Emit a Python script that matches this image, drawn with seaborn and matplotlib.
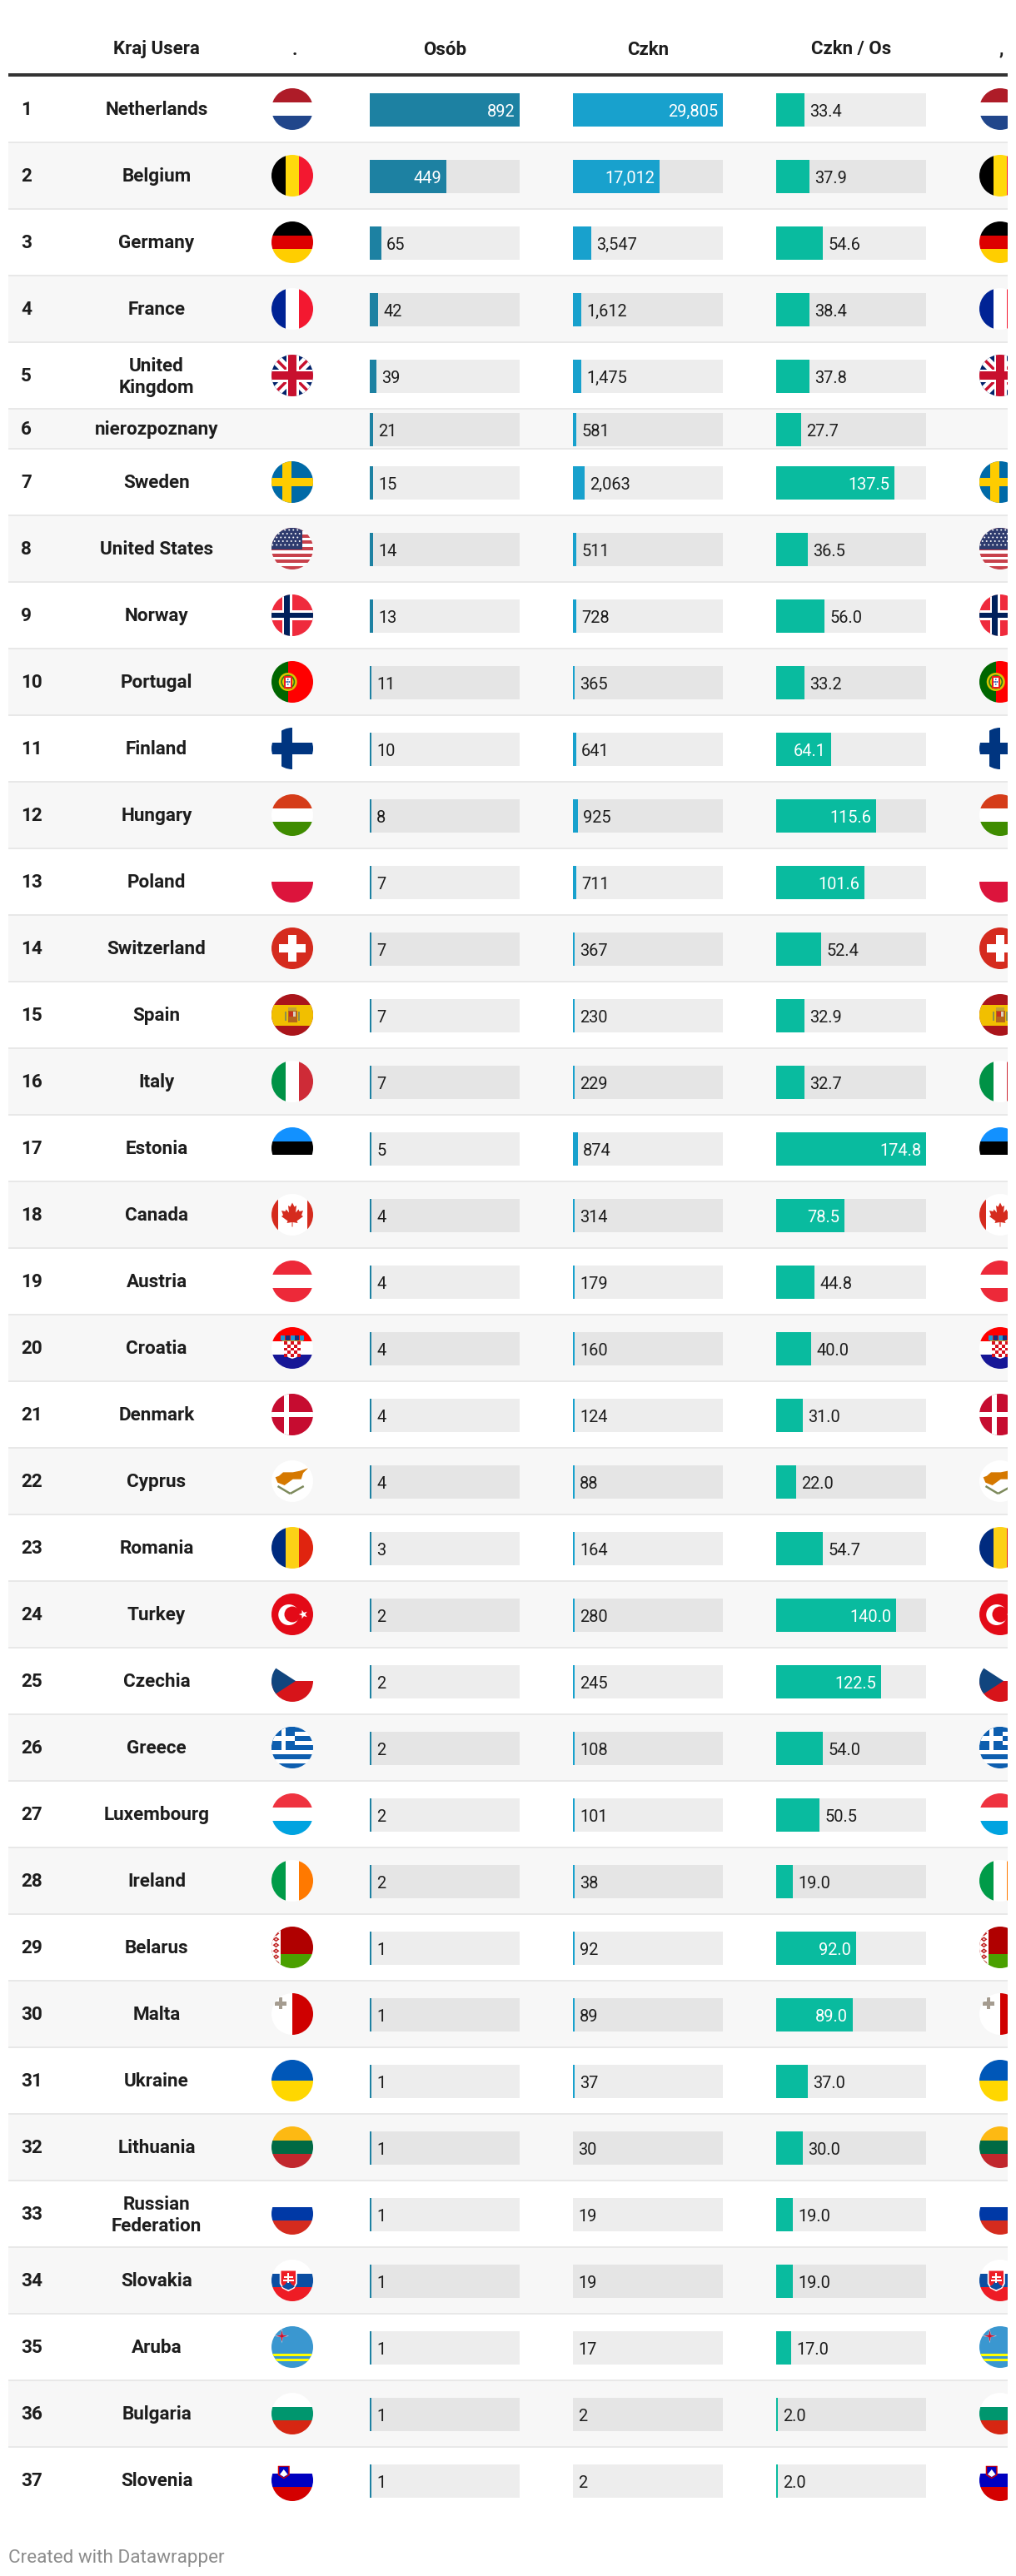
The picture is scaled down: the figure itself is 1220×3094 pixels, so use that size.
import numpy as np
import pandas as pd
import matplotlib
matplotlib.use("Agg")
import matplotlib.pyplot as plt
from matplotlib.patches import Rectangle, Circle, Polygon
import seaborn as sns

countries = ["Netherlands", "Belgium", "Germany", "France", "United\nKingdom", "nierozpoznany", "Sweden",
             "United States", "Norway", "Portugal", "Finland", "Hungary", "Poland", "Switzerland", "Spain",
             "Italy", "Estonia", "Canada", "Austria", "Croatia", "Denmark", "Cyprus", "Romania", "Turkey",
             "Czechia", "Greece", "Luxembourg", "Ireland", "Belarus", "Malta", "Ukraine", "Lithuania",
             "Russian\nFederation", "Slovakia", "Aruba", "Bulgaria", "Slovenia"]
osob = [892, 449, 65, 42, 39, 21, 15, 14, 13, 11, 10, 8, 7, 7, 7, 7, 5, 4, 4, 4, 4, 4, 3, 2, 2, 2, 2, 2,
        1, 1, 1, 1, 1, 1, 1, 1, 1]
czkn = [29805, 17012, 3547, 1612, 1475, 581, 2063, 511, 728, 365, 641, 925, 711, 367, 230, 229, 874, 314,
        179, 160, 124, 88, 164, 280, 245, 108, 101, 38, 92, 89, 37, 30, 19, 19, 17, 2, 2]
czkn_os = [33.4, 37.9, 54.6, 38.4, 37.8, 27.7, 137.5, 36.5, 56.0, 33.2, 64.1, 115.6, 101.6, 52.4, 32.9,
           32.7, 174.8, 78.5, 44.8, 40.0, 31.0, 22.0, 54.7, 140.0, 122.5, 54.0, 50.5, 19.0, 92.0, 89.0,
           37.0, 30.0, 19.0, 19.0, 17.0, 2.0, 2.0]
headers = ["Kraj Usera", ".", "Osób", "Czkn", "Czkn / Os", ","]
footer = "Created with Datawrapper"

# flags that are just three (or two) stripes
h_bands = {
    "Netherlands": ["#ae1c28", "#ffffff", "#21468b"],
    "Germany": ["#000000", "#dd0000", "#ffce00"],
    "Hungary": ["#d53c19", "#ffffff", "#3f8c00"],
    "Poland": ["#ffffff", "#dc143c"],
    "Estonia": ["#1291ff", "#000000", "#ffffff"],
    "Austria": ["#ed2939", "#ffffff", "#ed2939"],
    "Luxembourg": ["#ef3340", "#ffffff", "#00a3e0"],
    "Ukraine": ["#0057b8", "#ffd700"],
    "Lithuania": ["#fdb913", "#006a44", "#c1272d"],
    "Russian\nFederation": ["#ffffff", "#0039a6", "#d52b1e"],
    "Bulgaria": ["#ffffff", "#00966e", "#d62612"],
    "Croatia": ["#ff0000", "#ffffff", "#171796"],
    "Slovakia": ["#ffffff", "#0b4ea2", "#ee1c25"],
    "Slovenia": ["#ffffff", "#0000c0", "#d40000"],
}
v_bands = {
    "Belgium": ["#000000", "#ffd90c", "#f31830"],
    "France": ["#002395", "#ffffff", "#f31830"],
    "Italy": ["#009246", "#ffffff", "#ce2b37"],
    "Romania": ["#002b7f", "#fcd116", "#e0240f"],
    "Ireland": ["#009b48", "#ffffff", "#ff7900"],
}

W, H = 1220, 3094
R = 25


def px(size):
    return size * 0.72


sns.set_theme(style="white")
plt.rcParams["font.family"] = ["Roboto", "DejaVu Sans"]

fig = plt.figure(figsize=(W / 100, H / 100), dpi=100, facecolor="white")
base = fig.add_axes([0, 0, 1, 1])
base.set_xlim(0, W)
base.set_ylim(H, 0)
base.axis("off")

# row layout
row_h = [48 if c == "nierozpoznany" else 80 for c in countries]
row_top = 92 + np.concatenate([[0], np.cumsum(row_h)[:-1]])
row_mid = row_top + (np.array(row_h) - 2) / 2
bar_y = row_mid + 1
shades = ["even" if i % 2 else "odd" for i in range(len(countries))]


def draw_flag(name, cx, cy):
    clip = Circle((cx, cy), R, transform=base.transData)

    def add(p):
        base.add_patch(p)
        p.set_clip_path(clip)

    def rect(x0, y0, x1, y1, c):
        add(Rectangle((cx + x0 * R, cy + y0 * R), (x1 - x0) * R, (y1 - y0) * R, fc=c, lw=0, zorder=3))

    def poly(pts, c, ec="none", lw=0):
        pts = [(cx + a * R, cy + b * R) for a, b in pts]
        add(Polygon(pts, closed=True, fc=c, ec=ec, lw=lw, zorder=3))

    def circ(x, y, r, c):
        add(Circle((cx + x * R, cy + y * R), r * R, fc=c, lw=0, zorder=3))

    def bar(x0, y0, x1, y1, w, c):
        # slanted stripe, w in flag units
        d = np.array([x1 - x0, y1 - y0], dtype=float)
        n = np.array([-d[1], d[0]]) / np.hypot(*d) * w / 2
        poly([(x0 + n[0], y0 + n[1]), (x1 + n[0], y1 + n[1]), (x1 - n[0], y1 - n[1]), (x0 - n[0], y0 - n[1])], c)

    def star(x, y, r, c, points=5, inner=0.4, rot=-np.pi / 2):
        a = rot + np.arange(points * 2) * np.pi / points
        rr = np.where(np.arange(points * 2) % 2 == 0, r, r * inner)
        poly(list(zip(x + rr * np.cos(a), y + rr * np.sin(a))), c)

    if name in h_bands:
        cols = h_bands[name]
        edges = np.linspace(-1, 1, len(cols) + 1)
        for i, c in enumerate(cols):
            rect(-1, edges[i], 1, edges[i + 1], c)
    if name in v_bands:
        cols = v_bands[name]
        edges = np.linspace(-1, 1, len(cols) + 1)
        for i, c in enumerate(cols):
            rect(edges[i], -1, edges[i + 1], 1, c)

    if name == "United\nKingdom":
        rect(-1, -1, 1, 1, "#012169")
        bar(-1, -1, 1, 1, 0.5, "#ffffff")
        bar(-1, 1, 1, -1, 0.5, "#ffffff")
        bar(-1, -1, 0, 0, 0.14, "#c8102e")
        bar(0, 0, 1, 1, 0.14, "#c8102e")
        bar(-1, 1, 0, 0, 0.14, "#c8102e")
        bar(0, 0, 1, -1, 0.14, "#c8102e")
        rect(-1, -0.3, 1, 0.3, "#ffffff")
        rect(-0.3, -1, 0.3, 1, "#ffffff")
        rect(-1, -0.2, 1, 0.2, "#c8102e")
        rect(-0.2, -1, 0.2, 1, "#c8102e")
    elif name == "Sweden":
        rect(-1, -1, 1, 1, "#006aa7")
        rect(-0.47, -1, -0.06, 1, "#fecc00")
        rect(-1, -0.2, 1, 0.2, "#fecc00")
    elif name == "United States":
        rect(-1, -1, 1, 1, "#ffffff")
        edges = np.linspace(-1, 1, 14)
        for i in range(0, 13, 2):
            rect(-1, edges[i], 1, edges[i + 1], "#c8414b")
        rect(-1, -1, 0.49, 0.04, "#2e3b6e")
        for j, yy in enumerate(np.arange(-0.9, 0.0, 0.18)):
            for xx in np.arange(-0.95 + 0.1 * (j % 2), 0.45, 0.2):
                circ(xx, yy, 0.04, "#ffffff")
    elif name == "Norway":
        rect(-1, -1, 1, 1, "#ef2b3d")
        rect(-0.49, -1, -0.01, 1, "#ffffff")
        rect(-1, -0.24, 1, 0.24, "#ffffff")
        rect(-0.39, -1, -0.12, 1, "#00205b")
        rect(-1, -0.13, 1, 0.13, "#00205b")
    elif name == "Portugal":
        rect(-1, -1, -0.21, 1, "#006600")
        rect(-0.21, -1, 1, 1, "#ff0000")
        circ(-0.21, 0, 0.44, "#d8c400")
        circ(-0.21, 0, 0.34, "#2d7a1c")
        circ(-0.21, 0, 0.27, "#e8d000")
        rect(-0.42, -0.28, 0, 0.3, "#ee1c1c")
        rect(-0.33, -0.2, -0.09, 0.22, "#ffffff")
        for a, b in [(-0.21, -0.12), (-0.21, 0.0), (-0.21, 0.12), (-0.28, 0.0), (-0.14, 0.0)]:
            circ(a, b, 0.035, "#1c4fa8")
    elif name == "Finland":
        rect(-1, -1, 1, 1, "#ffffff")
        rect(-0.52, -1, 0, 1, "#003580")
        rect(-1, -0.27, 1, 0.27, "#003580")
    elif name == "Switzerland":
        rect(-1, -1, 1, 1, "#d52b1e")
        rect(-0.64, -0.2, 0.64, 0.2, "#ffffff")
        rect(-0.2, -0.63, 0.2, 0.63, "#ffffff")
    elif name == "Spain":
        rect(-1, -1, 1, 1, "#aa151b")
        rect(-1, -0.5, 1, 0.5, "#f1bf00")
        rect(-0.22, -0.2, 0.22, 0.34, "#b5651d")
        rect(-0.15, -0.16, 0.02, 0.08, "#c8301e")
        rect(0.02, -0.16, 0.17, 0.08, "#d8d0c0")
        rect(-0.2, -0.38, 0.2, -0.2, "#c2a038")
        rect(-0.37, -0.18, -0.27, 0.28, "#8a9050")
        rect(0.27, -0.18, 0.37, 0.28, "#8a9050")
    elif name == "Canada":
        rect(-1, -1, 1, 1, "#ffffff")
        rect(-1, -1, -0.68, 1, "#d52b1e")
        rect(0.72, -1, 1, 1, "#d52b1e")
        leaf = [(0, -0.58), (0.1, -0.38), (0.2, -0.44), (0.16, -0.1), (0.3, -0.26), (0.34, -0.16), (0.52, -0.2),
                (0.44, 0.02), (0.52, 0.08), (0.22, 0.3), (0.26, 0.4), (0.02, 0.36), (0.02, 0.58), (-0.02, 0.58),
                (-0.02, 0.36), (-0.26, 0.4), (-0.22, 0.3), (-0.52, 0.08), (-0.44, 0.02), (-0.52, -0.2),
                (-0.34, -0.16), (-0.3, -0.26), (-0.16, -0.1), (-0.2, -0.44), (-0.1, -0.38)]
        poly(leaf, "#d52b1e")
    elif name == "Croatia":
        rect(-0.39, -0.33, 0.39, 0.3, "#ffffff")
        poly([(-0.39, 0.25), (0.39, 0.25), (0.2, 0.45), (0, 0.52), (-0.2, 0.45)], "#ffffff")
        xs = np.linspace(-0.39, 0.39, 6)
        ys = np.linspace(-0.33, 0.45, 6)
        for i in range(5):
            for j in range(5):
                if (i + j) % 2 == 0:
                    rect(xs[i], ys[j], xs[i + 1], ys[j + 1], "#d8101c")
        for a, c in zip(np.linspace(-0.46, 0.46, 5), ["#1a9ad6", "#17307a", "#1a9ad6", "#17307a", "#1a9ad6"]):
            rect(a - 0.1, -0.62, a + 0.1, -0.36, c)
        rect(-0.5, -0.38, 0.5, -0.33, "#d8a020")
    elif name == "Denmark":
        rect(-1, -1, 1, 1, "#c60c30")
        rect(-0.41, -1, -0.17, 1, "#ffffff")
        rect(-1, -0.13, 1, 0.13, "#ffffff")
    elif name == "Cyprus":
        rect(-1, -1, 1, 1, "#ffffff")
        island = [(62, 343), (75, 338), (90, 325), (125, 325), (150, 320), (180, 310), (162, 328), (155, 350),
                  (125, 350), (95, 372), (70, 362)]
        poly([((a - 123) / 75, (b - 357) / 75) for a, b in island], "#d57800")
        bar(-0.7, 0.24, -0.1, 0.6, 0.1, "#7d8a5c")
        bar(0.55, 0.24, -0.1, 0.6, 0.1, "#7d8a5c")
    elif name == "Turkey":
        rect(-1, -1, 1, 1, "#e30a17")
        circ(-0.17, 0.02, 0.5, "#ffffff")
        circ(0.0, 0.0, 0.38, "#e30a17")
        star(0.53, 0.0, 0.22, "#ffffff", rot=np.pi)
    elif name == "Czechia":
        rect(-1, -1, 1, 0, "#ffffff")
        rect(-1, 0, 1, 1, "#d7141a")
        poly([(-1.2, -0.88), (0.16, 0), (-1.2, 0.88)], "#11457e")
    elif name == "Greece":
        rect(-1, -1, 1, 1, "#ffffff")
        edges = np.linspace(-1, 1, 10)
        for i in range(0, 9, 2):
            rect(-1, edges[i], 1, edges[i + 1], "#0d5eaf")
        rect(-1, -1, 0.1, edges[5], "#0d5eaf")
        rect(-0.54, -1, -0.34, edges[5], "#ffffff")
        rect(-1, -0.55, 0.1, -0.33, "#ffffff")
    elif name == "Belarus":
        rect(-1, -1, 1, 0.33, "#b00000")
        rect(-1, 0.33, 1, 1, "#4aa000")
        rect(-1, -1, -0.57, 1, "#ffffff")
        for yy in np.arange(-0.95, 1, 0.28):
            poly([(-0.78, yy - 0.12), (-0.62, yy), (-0.78, yy + 0.12), (-0.94, yy)], "#c02020")
            circ(-0.78, yy, 0.04, "#ffffff")
    elif name == "Malta":
        rect(-1, -1, 0, 1, "#ffffff")
        rect(0, -1, 1, 1, "#cf0000")
        rect(-0.84, -0.6, -0.3, -0.42, "#a59c90")
        rect(-0.66, -0.8, -0.48, -0.24, "#a59c90")
    elif name == "Slovakia":
        poly([(-0.61, -0.52), (0.23, -0.52), (0.23, 0.15), (0.1, 0.38), (-0.19, 0.53), (-0.48, 0.38), (-0.61, 0.15)],
             "#ffffff")
        poly([(-0.54, -0.46), (0.16, -0.46), (0.16, 0.13), (0.05, 0.33), (-0.19, 0.45), (-0.43, 0.33), (-0.54, 0.13)],
             "#ee1c25")
        poly([(-0.5, 0.28), (-0.35, 0.2), (-0.27, 0.08), (-0.11, 0.08), (-0.03, 0.2), (0.12, 0.28), (0.02, 0.36),
              (-0.19, 0.45), (-0.4, 0.36)], "#0b4ea2")
        rect(-0.23, -0.36, -0.15, 0.12, "#ffffff")
        rect(-0.4, -0.22, 0.02, -0.14, "#ffffff")
        rect(-0.44, -0.06, 0.06, 0.02, "#ffffff")
    elif name == "Aruba":
        rect(-1, -1, 1, 1, "#3a97d0")
        rect(-1, 0.32, 1, 0.44, "#ffff00")
        rect(-1, 0.55, 1, 0.67, "#ffff00")
        star(-0.5, -0.53, 0.34, "#ffffff", points=4, inner=0.22)
        star(-0.5, -0.53, 0.28, "#c8102e", points=4, inner=0.25)
    elif name == "Slovenia":
        poly([(-0.69, -0.69), (-0.13, -0.69), (-0.13, -0.25), (-0.41, -0.07), (-0.69, -0.25)], "#d40000")
        poly([(-0.63, -0.65), (-0.19, -0.65), (-0.19, -0.28), (-0.41, -0.13), (-0.63, -0.28)], "#0000c0")
        poly([(-0.6, -0.28), (-0.41, -0.52), (-0.22, -0.28), (-0.41, -0.16)], "#ffffff")


# stripes and lines under the rows
for i, (top, h) in enumerate(zip(row_top, row_h)):
    if i % 2:
        base.add_patch(Rectangle((10, top), 1200, h, fc="#f7f7f7", lw=0, zorder=0))
    if i < len(countries) - 1:
        base.add_patch(Rectangle((10, top + h - 2), 1200, 2, fc="#e8e8e8", lw=0, zorder=1))
base.add_patch(Rectangle((10, 88), 1200, 4, fc="#333333", lw=0, zorder=1))

# header
for text, x in zip(headers, [188, 354, 534, 778, 1022, 1202]):
    base.text(x, 65.5, text, ha="center", va="baseline", fontsize=px(22.3), fontweight="bold", color="#1d1d1d")

# rank, name, flags
for i, name in enumerate(countries):
    mid = row_mid[i]
    base.text(25, mid + 7, str(i + 1), ha="left", va="baseline", fontsize=px(22.5), fontweight="bold", color="#1d1d1d")
    if "\n" in name:
        a, b = name.split("\n")
        base.text(188, mid - 5, a, ha="center", va="baseline", fontsize=px(22.5), fontweight="bold", color="#1d1d1d")
        base.text(188, mid + 21, b, ha="center", va="baseline", fontsize=px(22.5), fontweight="bold", color="#1d1d1d")
    else:
        base.text(188, mid + 7, name, ha="center", va="baseline", fontsize=px(22.5), fontweight="bold", color="#1d1d1d")
    if name != "nierozpoznany":
        draw_flag(name, 351, mid)
        draw_flag(name, 1201, mid)

base.add_patch(Rectangle((1210, 0), 10, H, fc="white", lw=0, zorder=10))
base.text(10, 3078, footer, ha="left", va="baseline", fontsize=px(22.5), color="#8c8c8c")


def shown(vals, vmax):
    # datawrapper snaps the bars to whole css pixels (90 of them per track)
    x = np.array(vals, dtype=float) / vmax * 90
    n = np.ceil(x - 0.2)
    n[(n == 0) & (x >= 0.1)] = 1
    return n * vmax / 90


bar_width = 40 / 64  # native_scale takes width relative to the smallest row gap

columns = [(osob, 444, "#1d81a2", "{:,}"), (czkn, 688, "#18a1cd", "{:,}"), (czkn_os, 932, "#09bb9f", "{:.1f}")]
for vals, left, color, fmt in columns:
    vmax = max(vals)
    ax = fig.add_axes([left / W, 0, 180 / W, 1], facecolor="none")
    df = pd.DataFrame({"y": bar_y, "track": vmax, "fill": shown(vals, vmax), "shade": shades})
    sns.barplot(data=df, x="track", y="y", hue="shade", palette={"odd": "#ededed", "even": "#e5e5e5"},
                orient="y", native_scale=True, width=bar_width, dodge=False, saturation=1, legend=False,
                errorbar=None, linewidth=0, edgecolor="none", ax=ax)
    sns.barplot(data=df, x="fill", y="y", color=color, orient="y", native_scale=True, width=bar_width,
                saturation=1, errorbar=None, linewidth=0, edgecolor="none", ax=ax)
    ax.set_xlim(0, vmax)
    ax.set_ylim(H, 0)
    ax.axis("off")
    for v, end, y in zip(vals, df["fill"], bar_y):
        label = fmt.format(v)
        if v / vmax > 0.35:
            ax.annotate(label, (end, y + 8), xytext=(px(-6), 0), textcoords="offset points", ha="right",
                        va="baseline", fontsize=px(20), color="white", annotation_clip=False)
        else:
            ax.annotate(label, (end, y + 8), xytext=(px(6), 0), textcoords="offset points", ha="left",
                        va="baseline", fontsize=px(20), color="#1d1d1d", annotation_clip=False)

fig.savefig("out.png", dpi=100)
